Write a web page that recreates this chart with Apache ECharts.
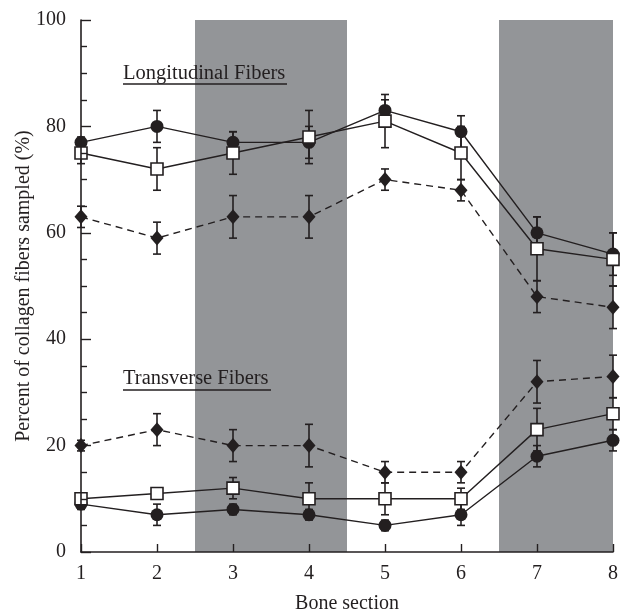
<!DOCTYPE html>
<html>
<head>
<meta charset="utf-8">
<script src="https://cdn.jsdelivr.net/npm/echarts@6/dist/echarts.min.js"></script>
<style>
html,body{margin:0;padding:0;background:#fff;}
#chart{width:620px;height:612px;}
</style>
</head>
<body>
<div id="chart"></div>
<script>
const sections = [1, 2, 3, 4, 5, 6, 7, 8];
const yTicks = [0, 20, 40, 60, 80, 100];
const shadedBands = [[2.5, 4.5], [6.5, 8]];

const longCircle = [77, 80, 77, 77, 83, 79, 60, 56];
const longCircleErr = [1, 3, 2, 3, 2, 3, 3, 4];
const longSquare = [75, 72, 75, 78, 81, 75, 57, 55];
const longSquareErr = [2, 4, 4, 5, 5, 5, 6, 5];
const longDiamond = [63, 59, 63, 63, 70, 68, 48, 46];
const longDiamondErr = [2, 3, 4, 4, 2, 2, 3, 4];

const transDiamond = [20, 23, 20, 20, 15, 15, 32, 33];
const transDiamondErr = [1, 3, 3, 4, 2, 2, 4, 4];
const transSquare = [10, 11, 12, 10, 10, 10, 23, 26];
const transSquareErr = [1, 1, 2, 3, 3, 2, 4, 3];
const transCircle = [9, 7, 8, 7, 5, 7, 18, 21];
const transCircleErr = [1, 2, 1, 1, 1, 2, 2, 2];

const INK = '#231f20';
const FONT = 'Liberation Serif';

function pts(vals) { return sections.map((x, i) => [x, vals[i]]); }
function errData(vals, errs) { return sections.map((x, i) => [x, vals[i] - errs[i], vals[i] + errs[i]]); }

function errSeries(vals, errs) {
  return {
    type: 'custom',
    z: 2,
    silent: true,
    data: errData(vals, errs),
    encode: { x: 0, y: [1, 2] },
    renderItem: function (params, api) {
      const x = api.value(0);
      const lo = api.coord([x, api.value(1)]);
      const hi = api.coord([x, api.value(2)]);
      const hw = 4;
      const st = { stroke: INK, lineWidth: 1.6 };
      return {
        type: 'group',
        children: [
          { type: 'line', shape: { x1: lo[0], y1: lo[1], x2: hi[0], y2: hi[1] }, style: st },
          { type: 'line', shape: { x1: lo[0] - hw, y1: lo[1], x2: lo[0] + hw, y2: lo[1] }, style: st },
          { type: 'line', shape: { x1: hi[0] - hw, y1: hi[1], x2: hi[0] + hw, y2: hi[1] }, style: st }
        ]
      };
    }
  };
}

function lineSeries(vals, kind, dashed) {
  const s = {
    type: 'line',
    z: 3,
    data: pts(vals),
    lineStyle: { color: INK, width: 1.4, type: dashed ? [7, 5] : 'solid' },
    silent: true,
    animation: false
  };
  if (kind === 'circle') {
    s.symbol = 'circle'; s.symbolSize = 13;
    s.itemStyle = { color: INK, borderColor: INK, borderWidth: 0 };
  } else if (kind === 'square') {
    s.symbol = 'rect'; s.symbolSize = 12;
    s.itemStyle = { color: '#ffffff', borderColor: INK, borderWidth: 1.6 };
  } else {
    s.symbol = 'diamond'; s.symbolSize = [13, 15];
    s.itemStyle = { color: INK, borderColor: INK, borderWidth: 0 };
  }
  return s;
}

const chart = echarts.init(document.getElementById('chart'), null, { renderer: 'canvas' });

const option = {
  animation: false,
  backgroundColor: '#ffffff',
  grid: { left: 81, right: 7, top: 20, bottom: 60, containLabel: false, outerBoundsMode: 'none' },
  xAxis: {
    type: 'value', min: 1, max: 8, interval: 1, z: 10,
    name: 'Bone section', nameLocation: 'middle', nameGap: 42, nameMoveOverlap: false,
    nameTextStyle: { fontFamily: FONT, fontSize: 20, color: INK },
    axisLine: { show: true, lineStyle: { color: INK, width: 1.6 } },
    axisTick: { show: true, inside: true, length: 8, lineStyle: { color: INK, width: 1.4 } },
    axisLabel: { fontFamily: FONT, fontSize: 20, color: INK, margin: 12 },
    splitLine: { show: false }
  },
  yAxis: {
    type: 'value', min: 0, max: 100, interval: 20, z: 10,
    name: 'Percent of collagen fibers sampled (%)', nameLocation: 'middle', nameGap: 47, nameMoveOverlap: false,
    nameTextStyle: { fontFamily: FONT, fontSize: 20, color: INK },
    axisLine: { show: true, lineStyle: { color: INK, width: 1.6 } },
    axisTick: { show: true, inside: true, length: 10, lineStyle: { color: INK, width: 1.4 } },
    minorTick: { show: true, splitNumber: 4, length: 6, lineStyle: { color: INK, width: 1.4 } },
    axisLabel: {
      fontFamily: FONT, fontSize: 20, color: INK, margin: 15,
      formatter: function (v) { return yTicks.indexOf(v) >= 0 ? String(v) : ''; }
    },
    splitLine: { show: false }
  },
  graphic: [
    { type: 'text', left: 123, top: 63, z: 20,
      style: { text: 'Longitudinal Fibers', font: '20.5px "Liberation Serif"', fill: INK } },
    { type: 'line', z: 20, shape: { x1: 123, y1: 84, x2: 287, y2: 84 }, style: { stroke: INK, lineWidth: 1.3 } },
    { type: 'text', left: 123, top: 368, z: 20,
      style: { text: 'Transverse Fibers', font: '20.5px "Liberation Serif"', fill: INK } },
    { type: 'line', z: 20, shape: { x1: 123, y1: 390, x2: 271, y2: 390 }, style: { stroke: INK, lineWidth: 1.3 } }
  ],
  series: [
    {
      type: 'line', z: 1, data: [], silent: true,
      markArea: {
        silent: true,
        itemStyle: { color: '#939598' },
        data: shadedBands.map(b => [{ xAxis: b[0], yAxis: 0 }, { xAxis: b[1], yAxis: 100 }])
      }
    },
    errSeries(longCircle, longCircleErr),
    errSeries(longSquare, longSquareErr),
    errSeries(longDiamond, longDiamondErr),
    errSeries(transDiamond, transDiamondErr),
    errSeries(transSquare, transSquareErr),
    errSeries(transCircle, transCircleErr),
    lineSeries(longDiamond, 'diamond', true),
    lineSeries(longCircle, 'circle', false),
    lineSeries(longSquare, 'square', false),
    lineSeries(transDiamond, 'diamond', true),
    lineSeries(transCircle, 'circle', false),
    lineSeries(transSquare, 'square', false)
  ]
};
chart.setOption(option);
</script>
</body>
</html>
